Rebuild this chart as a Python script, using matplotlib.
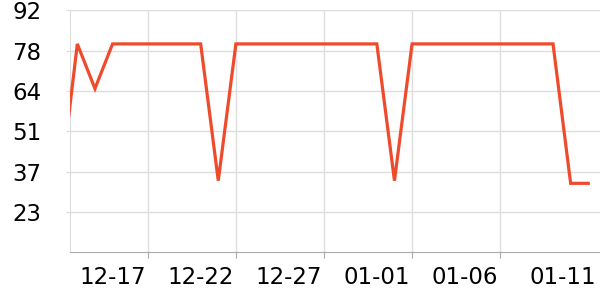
import matplotlib
matplotlib.use('Agg')
import matplotlib.pyplot as plt
import matplotlib.dates as mdates
import matplotlib.transforms as mtransforms
import numpy as np
import datetime as dt

start = dt.datetime(2023, 12, 12)
days = [start + dt.timedelta(days=i) for i in range(31)]
values = [30.0, 80.5, 65.2,
          80.5, 80.5, 80.5, 80.5, 80.5, 80.5,
          33.7,
          80.5, 80.5, 80.5, 80.5, 80.5, 80.5, 80.5, 80.5, 80.5,
          33.7,
          80.5, 80.5, 80.5, 80.5, 80.5, 80.5, 80.5, 80.5, 80.5,
          32.8, 32.8]

y_ticks = [23, 36.8, 50.6, 64.4, 78.2, 92]
y_labels = ['23', '37', '51', '64', '78', '92']
x_ticks = [dt.datetime(2023, 12, 17), dt.datetime(2023, 12, 22), dt.datetime(2023, 12, 27),
           dt.datetime(2024, 1, 1), dt.datetime(2024, 1, 6), dt.datetime(2024, 1, 11)]
x_labels = ['12-17', '12-22', '12-27', '01-01', '01-06', '01-11']

fig = plt.figure(figsize=(6, 3), dpi=100)
ax = fig.add_axes([70/600, 1 - 252.3/300, 530/600, 242/300])

ax.plot(days, values, color='#ee4a2c', lw=2.3, solid_joinstyle='miter', zorder=3)

ax.set_xlim(dt.datetime(2023, 12, 12, 14), dt.datetime(2024, 1, 11, 16))
ax.set_ylim(9.2, 92)
ax.set_yticks(y_ticks)
ax.set_yticklabels(y_labels)
ax.set_xticks(x_ticks)
ax.set_xticklabels(x_labels, ha='right')

ax.grid(True, color='#dddddd', lw=1)
for s in ['top', 'right']:
    ax.spines[s].set_visible(False)
ax.spines['left'].set_color('#dddddd')
ax.spines['bottom'].set_color('#aaaaaa')

ax.tick_params(axis='y', length=3, color='#dddddd', pad=17.5, labelsize=16.5)
ax.tick_params(axis='x', length=4, color='#aaaaaa', pad=6, labelsize=16.5)

off = mtransforms.ScaledTranslation(-2/100, 0, fig.dpi_scale_trans)
for lbl in ax.get_xticklabels():
    lbl.set_transform(lbl.get_transform() + off)

# last tick: no gridline / tick mark, label pushed right
last = ax.xaxis.get_major_ticks()[-1]
last.gridline.set_visible(False)
last.tick1line.set_visible(False)
shift = mtransforms.ScaledTranslation(10/100, 0, fig.dpi_scale_trans)
last.label1.set_transform(last.label1.get_transform() + shift)

fig.savefig('out.png', dpi=100)
